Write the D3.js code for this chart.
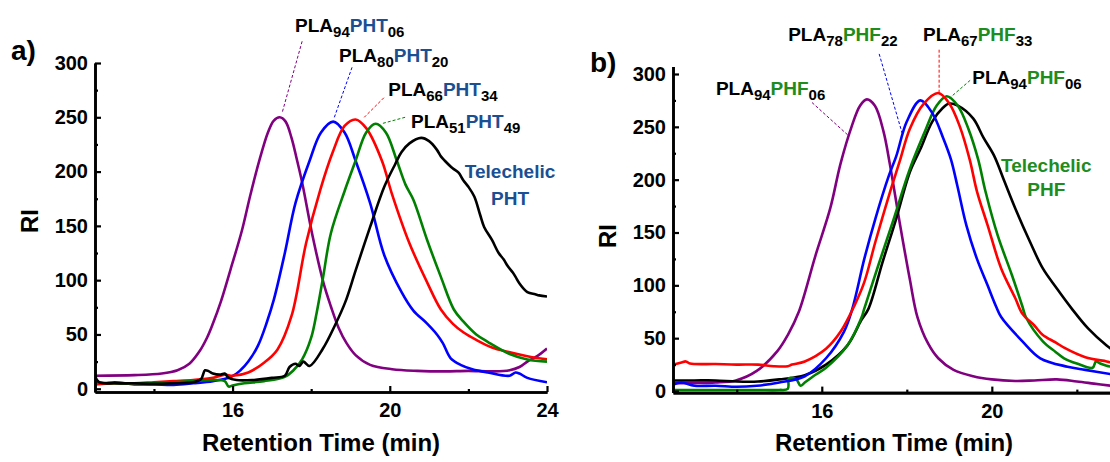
<!DOCTYPE html>
<html><head><meta charset="utf-8">
<script src="https://cdn.jsdelivr.net/npm/d3@7"></script>
<style>
body{margin:0;background:#fff}
text{font-family:"Liberation Sans",Arial,Helvetica,sans-serif;font-weight:bold}
</style>
</head><body>
<svg id="chart" width="1110" height="462"></svg>
<script>
// ---------- tick labels ----------
const yTicks = [0, 50, 100, 150, 200, 250, 300];
const yMinorTicks = [25, 75, 125, 175, 225, 275];
const xTicksA = [16, 20, 24];
const xMinorA = [14, 18, 22];
const xTicksB = [16, 20];
const xMinorB = [14, 18, 22];

// ---------- panel a series (retention time min, RI) ----------
const purpleA = [[12.5,12],[13.5,12.5],[14.2,14],[14.6,17],[14.9,23],[15.15,34],[15.35,47],[15.5,60],[15.7,80],[15.95,110],[16.24,146],[16.45,178],[16.68,210],[16.9,236],[17.05,247],[17.2,250],[17.35,246],[17.5,231],[17.63,212],[17.77,190],[18.04,140],[18.31,98],[18.5,76],[18.7,56],[18.9,42],[19.13,31],[19.5,22],[20.06,18],[20.7,16.5],[21.4,16],[22.0,16.5],[22.6,16],[23.05,17],[23.3,20],[23.5,25],[23.75,30],[24,37]];
const blueA = [[12.5,8],[12.7,5],[13.0,6],[13.5,4],[14.0,4],[14.5,3.5],[15.0,5],[15.5,7],[15.97,11],[16.2,17],[16.4,25],[16.65,40],[16.87,61],[17.05,82],[17.33,125],[17.6,171],[17.96,210],[18.25,236],[18.56,246],[18.85,236],[19.13,210],[19.5,171],[19.86,123],[20.3,89],[20.6,72],[20.95,60],[21.2,50],[21.35,42],[21.55,28],[21.8,22],[22.1,18],[22.5,15],[23.05,12],[23.2,15],[23.3,14],[23.5,10],[24,6]];
const redA = [[12.5,4],[13,5],[13.5,5],[14,6],[14.5,7],[15,8],[15.5,10],[15.8,13],[16.0,12],[16.4,15],[16.8,24],[17.14,36],[17.5,67],[17.87,134],[18.23,183],[18.55,218],[18.85,242],[19.13,248],[19.4,240],[19.8,210],[20.05,180],[20.5,134],[20.95,98],[21.3,73],[21.6,60],[21.87,52],[22.2,45],[22.6,38],[23.0,34],[23.5,30],[24,27]];
const greenA = [[12.5,6],[13,5],[13.5,5],[14,5],[14.5,6],[15,7],[15.5,8],[15.8,7],[15.9,2],[16.0,3],[16.3,5],[16.8,7],[17.33,11],[17.55,17],[17.77,27],[18.0,47],[18.14,70],[18.3,102],[18.5,143],[18.86,183],[19.13,210],[19.4,236],[19.64,244],[19.9,236],[20.18,210],[20.4,188],[20.6,174],[20.95,137],[21.3,103],[21.63,73],[21.87,62],[22.2,50],[22.5,43],[23.05,32],[23.5,27],[24,25]];
const blackA = [[12.5,12],[12.6,6],[13,5],[13.5,5],[14,4.5],[14.5,5],[15,6],[15.2,9],[15.3,17],[15.4,16],[15.5,14],[15.7,13],[15.8,14],[15.9,10],[16.1,8],[16.5,8],[17.0,10],[17.33,12],[17.45,20],[17.6,23],[17.7,21],[17.8,25],[17.96,21],[18.3,37],[18.6,58],[18.87,80],[19.14,110],[19.5,149],[19.86,186],[20.14,207],[20.3,218],[20.5,226],[20.8,231],[21.0,228],[21.2,220],[21.3,214],[21.4,210],[21.6,203],[21.75,199],[21.87,192],[22.0,186],[22.15,177],[22.3,160],[22.4,149],[22.6,137],[22.77,125],[22.9,119],[23.0,113],[23.13,107],[23.2,103],[23.3,97],[23.5,89],[23.7,87],[23.8,86],[24,85]];

// ---------- panel b series ----------
const purpleB = [[12.5,7.5],[13.0,7.5],[13.5,8],[13.98,10],[14.47,19],[14.96,38],[15.2,53],[15.46,75],[15.85,128],[16.2,173],[16.44,215],[16.7,250],[16.9,270],[17.06,276],[17.25,270],[17.45,246],[17.6,215],[17.83,160],[18.07,106],[18.25,70],[18.5,45],[18.74,31],[19.1,20],[19.56,14],[20.0,11],[20.55,9.5],[21.0,10],[21.53,11],[22.0,9],[22.4,7],[22.8,5]];
const blueB = [[12.5,6],[12.7,8],[13,5],[13.5,5],[14,4],[14.47,5],[15.0,8],[15.6,14],[16.1,31],[16.52,56],[16.72,78],[17.0,125],[17.26,163],[17.58,204],[17.75,222],[18.0,255],[18.32,275],[18.6,263],[18.85,240],[19.04,219],[19.19,194],[19.4,157],[19.65,125],[19.9,100],[20.1,80],[20.22,70],[20.72,47],[21.14,31],[21.78,23],[22.2,20],[22.8,16]];
const redB = [[12.5,25],[12.7,27],[12.8,28],[12.9,26],[13.5,25.5],[14.0,25],[14.5,25],[14.87,23.5],[15.2,23.5],[15.3,25],[15.6,28],[16.1,40],[16.44,56],[16.77,81],[17.0,103],[17.26,141],[17.58,185],[17.83,217],[18.07,248],[18.4,272],[18.74,282],[19.0,272],[19.25,250],[19.48,219],[19.65,189],[19.9,157],[20.22,116],[20.55,88],[20.72,73],[21.0,62],[21.2,53],[21.5,46],[21.7,41],[22.2,32],[22.7,28],[22.8,27]];
const greenB = [[12.5,1],[13,1],[13.5,1],[14,1],[14.5,1],[15.0,1],[15.2,2],[15.23,12],[15.4,11],[15.5,5],[15.6,8],[15.8,14],[16.1,22],[16.6,43],[16.93,69],[17.0,78],[17.33,119],[17.67,160],[18.07,210],[18.42,245],[18.7,270],[18.94,279],[19.2,270],[19.45,248],[19.68,219],[19.85,189],[20.14,147],[20.47,110],[20.72,80],[20.8,70],[21.2,47],[21.5,37],[21.7,31],[22.0,26],[22.37,22],[22.45,28],[22.55,26],[22.7,24],[22.8,23]];
const blackB = [[12.5,10],[13,10],[13.5,10],[14,9],[14.5,9],[15.0,11],[15.6,15],[16.1,25],[16.6,43],[16.93,67],[17.1,78],[17.43,122],[17.75,163],[18.07,207],[18.32,229],[18.6,255],[18.85,268],[19.0,272],[19.2,270],[19.56,258],[19.8,240],[20.05,223],[20.3,198],[20.55,173],[20.9,141],[21.2,116],[21.53,97],[21.88,78],[22.27,59],[22.7,43],[22.8,40]];

// ---------- annotation texts ----------
const labelsA = [
  {parts:[["PLA","k",0],["94","k",1],["PHT","c",0],["06","k",1]], at:[17.59,329], line:[[17.77,320],[17.26,254]], color:"#800080"},
  {parts:[["PLA","k",0],["80","k",1],["PHT","c",0],["20","k",1]], at:[18.71,301], line:[[19.04,296],[18.58,249]], color:"#0000ff"},
  {parts:[["PLA","k",0],["66","k",1],["PHT","c",0],["34","k",1]], at:[19.96,270], line:[[19.85,268],[19.35,250]], color:"#ff0000"},
  {parts:[["PLA","k",0],["51","k",1],["PHT","c",0],["49","k",1]], at:[20.54,240], line:[[20.39,250],[19.78,244]], color:"#008000"}
];
const labelsB = [
  {parts:[["PLA","k",0],["78","k",1],["PHF","c",0],["22","k",1]], at:[15.21,331], line:[[17.35,319],[17.89,244]], color:"#0000ff"},
  {parts:[["PLA","k",0],["67","k",1],["PHF","c",0],["33","k",1]], at:[18.38,331], line:[[18.76,323],[18.76,280]], color:"#ff0000"},
  {parts:[["PLA","k",0],["94","k",1],["PHF","c",0],["06","k",1]], at:[19.54,291], line:[[19.49,294],[19.0,277]], color:"#008000"},
  {parts:[["PLA","k",0],["94","k",1],["PHF","c",0],["06","k",1]], at:[13.51,280], line:[[15.77,273],[16.62,242]], color:"#800080"}
];
const teleA = {lines:["Telechelic","PHT"], at:[[23.06,194],[23.06,169]]};
const teleB = {lines:["Telechelic","PHF"], at:[[21.28,207],[21.28,185]]};

const svg = d3.select("#chart");
svg.append("rect").attr("width",1110).attr("height",462).attr("fill","#fff");

function panel(cfg){
  const g = svg.append("g");
  const x = d3.scaleLinear().domain(cfg.xDomain).range(cfg.xRange);
  const y = d3.scaleLinear().domain(cfg.yDomain).range(cfg.yRange);
  const clipId = "clip"+cfg.id;
  svg.append("clipPath").attr("id",clipId).append("rect")
    .attr("x",cfg.xRange[0]).attr("y",0).attr("width",cfg.xRange[1]-cfg.xRange[0]).attr("height",cfg.yRange[0]);
  const line = d3.line().x(d=>x(d[0])).y(d=>y(d[1])).curve(d3.curveCatmullRom.alpha(0.5));
  const pg = g.append("g").attr("clip-path",`url(#${clipId})`);
  cfg.series.forEach(s=>{
    pg.append("path").datum(s.data).attr("d",line).attr("fill","none")
      .attr("stroke",s.color).attr("stroke-width",2.6).attr("stroke-linejoin","round");
  });
  // axes
  const yAxis = d3.axisLeft(y).tickValues(yTicks).tickSize(-6).tickSizeOuter(0).tickPadding(7);
  const yAxisMinor = d3.axisLeft(y).tickValues(yMinorTicks).tickSize(-3).tickSizeOuter(0).tickFormat("");
  const xAxis = d3.axisBottom(x).tickValues(cfg.xTicks).tickSize(-6).tickSizeOuter(0).tickPadding(11);
  const xAxisMinor = d3.axisBottom(x).tickValues(cfg.xMinor).tickSize(-3).tickSizeOuter(0).tickFormat("");
  g.append("g").attr("transform",`translate(${cfg.xRange[0]},0)`).call(yAxis);
  g.append("g").attr("transform",`translate(${cfg.xRange[0]},0)`).call(yAxisMinor);
  g.append("g").attr("transform",`translate(0,${cfg.yRange[0]})`).call(xAxis);
  g.append("g").attr("transform",`translate(0,${cfg.yRange[0]})`).call(xAxisMinor);
  g.selectAll(".domain").attr("stroke","#000").attr("stroke-width",2.6);
  g.selectAll(".tick line").attr("stroke","#000").attr("stroke-width",2.2);
  g.selectAll(".tick text").attr("font-size",20).attr("fill","#000")
    .style("font-family",'"Liberation Sans",Arial,sans-serif').style("font-weight","bold");
  // titles
  g.append("text").attr("x",cfg.titleX).attr("y",451).attr("text-anchor","middle")
    .attr("font-size",24).text("Retention Time (min)");
  g.append("text").attr("transform",`translate(${cfg.riX},${cfg.riY}) rotate(-90)`)
    .attr("text-anchor","middle").attr("font-size",24).text("RI");
  g.append("text").attr("x",cfg.letterX).attr("y",cfg.letterY).attr("font-size",28).text(cfg.letter);
  // annotations
  cfg.labels.forEach(l=>{
    g.append("line").attr("x1",x(l.line[0][0])).attr("y1",y(l.line[0][1]))
      .attr("x2",x(l.line[1][0])).attr("y2",y(l.line[1][1]))
      .attr("stroke",l.color).attr("stroke-width",1).attr("stroke-dasharray","3,2");
    const t = g.append("text").attr("x",x(l.at[0])).attr("y",y(l.at[1]));
    let sub=false;
    l.parts.forEach(p=>{
      const ts = t.append("tspan").text(p[0]).attr("fill",p[1]==="k"?"#000":cfg.textColor);
      if(p[2]){ ts.attr("font-size",15).attr("dy",sub?0:5); sub=true; }
      else { ts.attr("font-size",19).attr("dy",sub?-5:0); sub=false; }
    });
  });
  cfg.tele.lines.forEach((s,i)=>{
    g.append("text").attr("x",x(cfg.tele.at[i][0])).attr("y",y(cfg.tele.at[i][1]))
      .attr("text-anchor","middle").attr("font-size",19).attr("fill",cfg.textColor).text(s);
  });
}

panel({id:"a", xDomain:[12.5,24], xRange:[95,547], yDomain:[-3,300], yRange:[392,63],
  xTicks:xTicksA, xMinor:xMinorA, titleX:321, riX:38, riY:221, letter:"a)", letterX:11, letterY:60,
  textColor:"#1b4f93", labels:labelsA, tele:teleA,
  series:[{data:purpleA,color:"#800080"},{data:blueA,color:"#0000ff"},{data:redA,color:"#ff0000"},{data:greenA,color:"#008000"},{data:blackA,color:"#000"}]});
panel({id:"b", xDomain:[12.5,22.78], xRange:[673,1110], yDomain:[-1.5,307], yRange:[392.6,66.6],
  xTicks:xTicksB, xMinor:xMinorB, titleX:894, riX:616, riY:236, letter:"b)", letterX:590, letterY:72,
  textColor:"#1e8c1e", labels:labelsB, tele:teleB,
  series:[{data:purpleB,color:"#800080"},{data:blackB,color:"#000"},{data:greenB,color:"#008000"},{data:blueB,color:"#0000ff"},{data:redB,color:"#ff0000"}]});
</script>
</body></html>
